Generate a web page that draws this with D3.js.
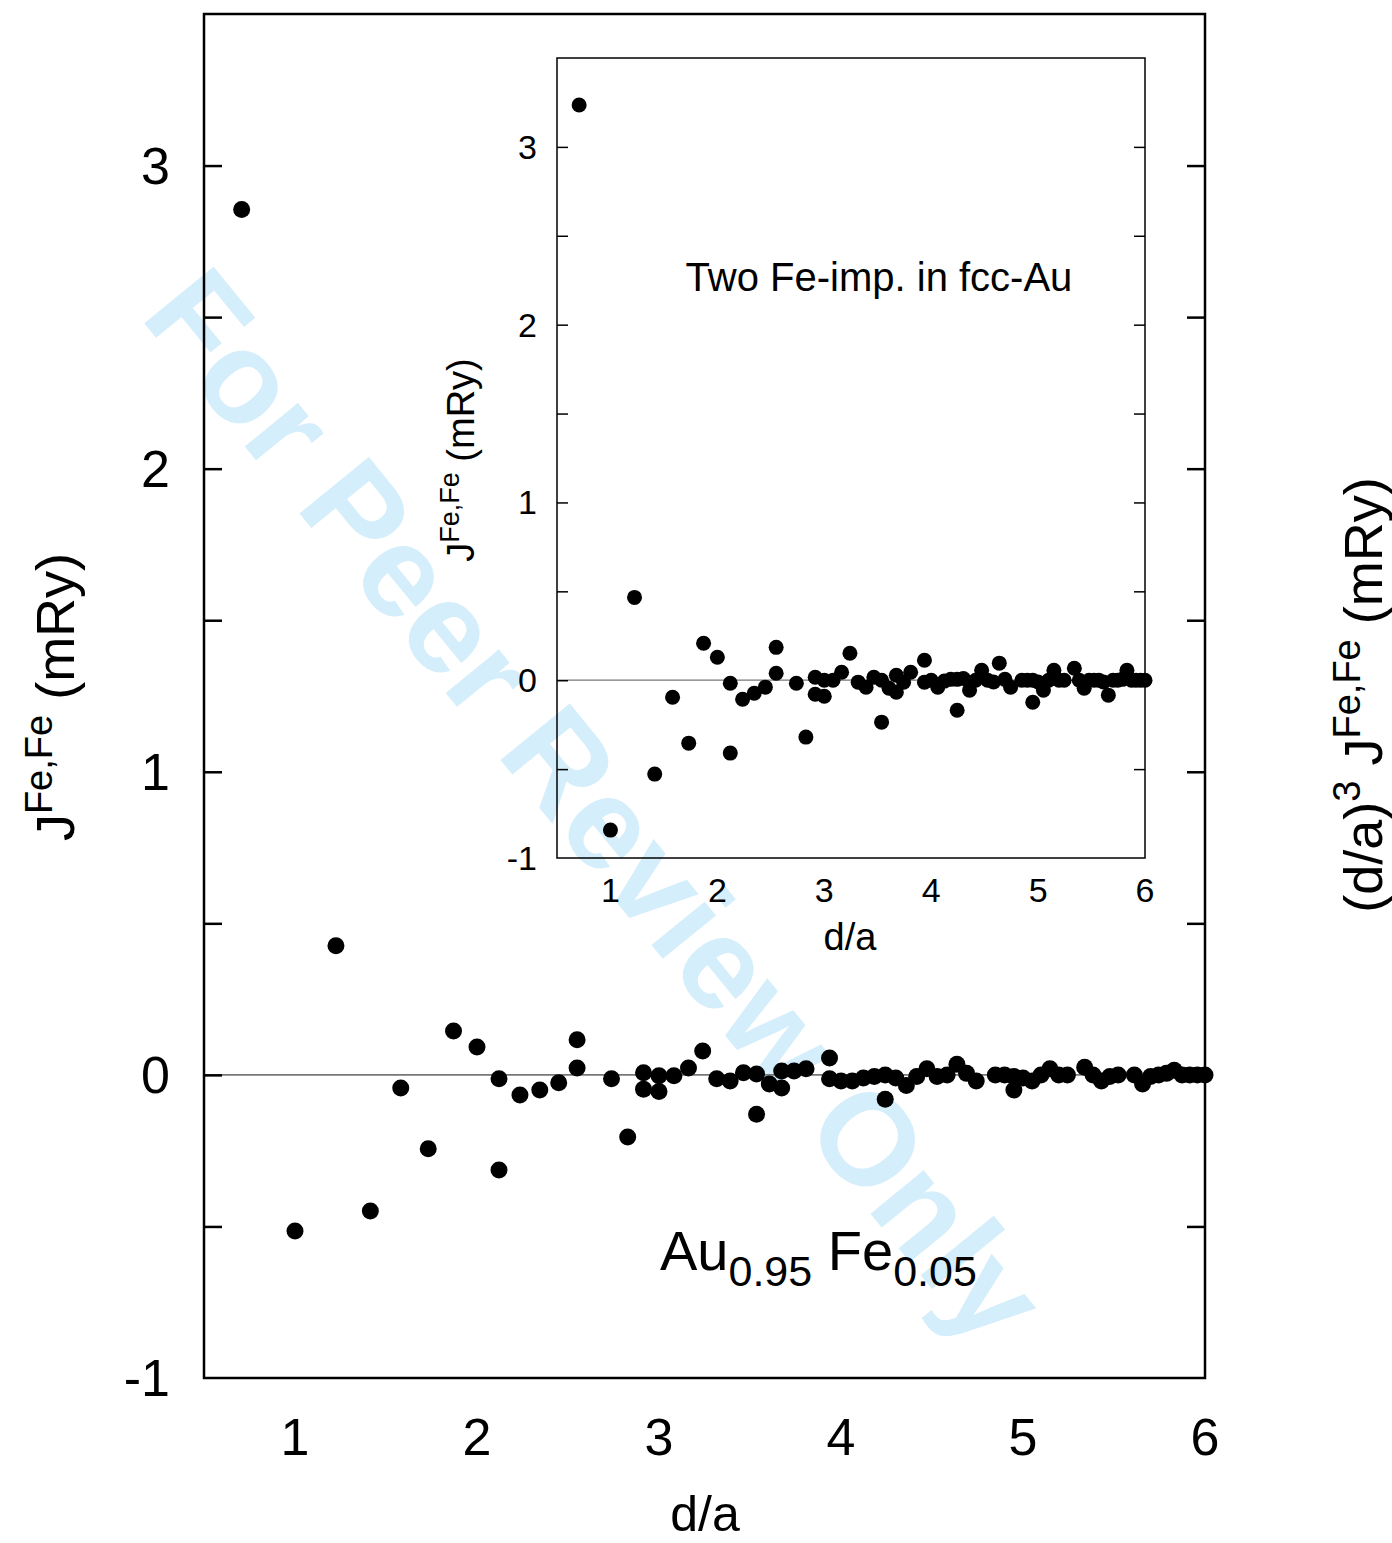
<!DOCTYPE html>
<html><head><meta charset="utf-8">
<script src="https://cdn.jsdelivr.net/npm/d3@7"></script>
<style>body{margin:0;background:#fff}svg{display:block;font-family:"Liberation Sans",Arial,sans-serif}</style>
</head><body>
<script>
// Main plot: Au0.95 Fe0.05
const mainD = [0.707,1.0,1.225,1.414,1.581,1.732,1.871,2.0,2.121,2.121,2.236,2.345,2.449,2.550,2.550,2.739,2.828,2.915,2.915,3.0,3.0,3.082,3.162,3.240,3.317,3.391,3.464,3.536,3.536,3.606,3.674,3.674,3.742,3.808,3.937,3.937,4.0,4.062,4.123,4.183,4.243,4.243,4.301,4.359,4.416,4.472,4.528,4.583,4.637,4.690,4.743,4.848,4.899,4.950,4.950,5.0,5.050,5.099,5.148,5.196,5.244,5.339,5.385,5.431,5.477,5.523,5.612,5.657,5.701,5.745,5.788,5.831,5.874,5.916,5.958,6.0];
const mainJ = [2.855,-0.515,0.426,-0.449,-0.043,-0.244,0.145,0.092,-0.013,-0.314,-0.066,-0.05,-0.026,0.023,0.116,-0.013,-0.205,0.007,-0.047,-0.003,-0.055,-0.003,0.023,0.079,-0.013,-0.02,0.007,0.003,-0.13,-0.03,0.013,-0.043,0.013,0.02,0.056,-0.013,-0.02,-0.02,-0.01,-0.005,0.0,-0.08,-0.01,-0.035,-0.005,0.02,-0.005,0.0,0.035,0.005,-0.02,0.0,0.0,-0.005,-0.05,-0.01,-0.02,0.0,0.02,0.0,0.0,0.025,0.0,-0.02,-0.005,0.0,0.0,-0.03,-0.005,0.0,0.005,0.015,0.0,0.0,0.0,0.0];
// Inset: two Fe impurities in fcc-Au
const insetD = [0.707,1.0,1.225,1.414,1.581,1.732,1.871,2.0,2.121,2.121,2.236,2.345,2.449,2.550,2.550,2.739,2.828,2.915,2.915,3.0,3.0,3.082,3.162,3.240,3.317,3.391,3.464,3.536,3.536,3.606,3.674,3.674,3.742,3.808,3.937,3.937,4.0,4.062,4.123,4.183,4.243,4.243,4.301,4.359,4.416,4.472,4.528,4.583,4.637,4.690,4.743,4.848,4.899,4.950,4.950,5.0,5.050,5.099,5.148,5.196,5.244,5.339,5.385,5.431,5.477,5.523,5.568,5.612,5.657,5.701,5.745,5.788,5.831,5.874,5.916,5.958,6.0];
const insetJ = [3.236,-0.843,0.466,-0.528,-0.096,-0.354,0.208,0.129,-0.017,-0.41,-0.107,-0.073,-0.039,0.039,0.185,-0.017,-0.32,0.017,-0.079,0.0,-0.09,0.0,0.045,0.152,-0.011,-0.039,0.017,0.0,-0.236,-0.045,0.028,-0.067,-0.011,0.045,0.112,-0.011,0.0,-0.039,-0.005,0.005,0.005,-0.169,0.01,-0.056,0.0,0.056,0.0,-0.01,0.096,0.005,-0.039,0.0,0.0,0.0,-0.124,-0.01,-0.056,0.0,0.056,0.0,0.0,0.067,0.0,-0.045,0.0,0.0,0.0,-0.01,-0.084,0.0,0.0,0.005,0.056,0.0,0.0,0.0,0.0];
const xTicks = [1,2,3,4,5,6];
const yTicks = [-1,0,1,2,3];
const yMinor = [-0.5,0.5,1.5,2.5];

const W=1392,H=1543;
const svg=d3.select("body").append("svg").attr("width",W).attr("height",H);

// watermark
svg.append("text").attr("transform","translate(596,806) rotate(50.8)")
  .attr("text-anchor","middle").attr("dominant-baseline","central")
  .attr("font-size",130).attr("font-weight","bold").attr("fill","#d4eefb").text("For Peer Review Only");

function panel(o){
  const x=d3.scaleLinear().domain([0.5,6]).range([o.x0,o.x1]);
  const y=d3.scaleLinear().domain([-1,3.5]).range([o.y1,o.y0]);
  const g=svg.append("g");
  g.append("line").attr("x1",x(0.5)).attr("x2",x(6)).attr("y1",y(0)).attr("y2",y(0))
    .attr("stroke","#777").attr("stroke-width",o.zw);
  const all=yTicks.concat(yMinor).filter(v=>v>-1&&v<3.5);
  const ax=d3.axisLeft(y).tickValues(all).tickSize(-o.tl).tickFormat("");
  const ar=d3.axisRight(y).tickValues(all).tickSize(-o.tl).tickFormat("");
  g.append("g").attr("transform",`translate(${o.x0},0)`).call(ax).call(s=>{s.select(".domain").remove();s.selectAll("line").attr("stroke","#000").attr("stroke-width",o.tw);});
  g.append("g").attr("transform",`translate(${o.x1},0)`).call(ar).call(s=>{s.select(".domain").remove();s.selectAll("line").attr("stroke","#000").attr("stroke-width",o.tw);});
  g.append("rect").attr("x",o.x0).attr("y",o.y0).attr("width",o.x1-o.x0).attr("height",o.y1-o.y0)
    .attr("fill","none").attr("stroke","#000").attr("stroke-width",o.fw);
  g.selectAll(".yl").data(yTicks).join("text").attr("x",o.x0-o.ylOff).attr("y",d=>y(d))
    .attr("text-anchor","end").attr("dominant-baseline","central").attr("font-size",o.fs).text(d=>d);
  g.selectAll(".xl").data(xTicks).join("text").attr("x",d=>x(d)).attr("y",o.y1+o.xlOff)
    .attr("text-anchor","middle").attr("dominant-baseline","central").attr("font-size",o.fs).text(d=>d);
  g.selectAll("circle").data(o.d.map((d,i)=>[d,o.j[i]])).join("circle")
    .attr("cx",d=>x(d[0])).attr("cy",d=>y(d[1])).attr("r",o.r).attr("fill","#000");
  return {x,y};
}

panel({x0:204,x1:1205,y0:14,y1:1378,d:mainD,j:mainJ,r:8.5,fs:52,ylOff:34,xlOff:59,tl:18,tw:2.5,fw:2.5,zw:1.8});
panel({x0:557,x1:1145,y0:58,y1:858,d:insetD,j:insetJ,r:7.5,fs:34,ylOff:20,xlOff:32,tl:11,tw:1.5,fw:1.5,zw:1.3});

// main axis titles
svg.append("text").attr("x",705).attr("y",1514).attr("text-anchor","middle").attr("dominant-baseline","central").attr("font-size",50).text("d/a");
const yl=svg.append("text").attr("transform","translate(74,697) rotate(-90)").attr("text-anchor","middle").attr("font-size",54);
yl.append("tspan").text("J");
yl.append("tspan").attr("dy",-22).attr("font-size",38).text("Fe,Fe");
yl.append("tspan").attr("dy",22).text(" (mRy)");
const yr=svg.append("text").attr("transform","translate(1382,695) rotate(-90)").attr("text-anchor","middle").attr("font-size",54);
yr.append("tspan").text("(d/a)");
yr.append("tspan").attr("dy",-22).attr("font-size",38).text("3");
yr.append("tspan").attr("dy",22).text(" J");
yr.append("tspan").attr("dy",-22).attr("font-size",38).text("Fe,Fe");
yr.append("tspan").attr("dy",22).text(" (mRy)");

// inset titles
svg.append("text").attr("x",850).attr("y",937).attr("text-anchor","middle").attr("dominant-baseline","central").attr("font-size",38).text("d/a");
const iy=svg.append("text").attr("transform","translate(474,460) rotate(-90)").attr("text-anchor","middle").attr("font-size",38);
iy.append("tspan").text("J");
iy.append("tspan").attr("dy",-15).attr("font-size",27).text("Fe,Fe");
iy.append("tspan").attr("dy",15).text(" (mRy)");
svg.append("text").attr("x",879).attr("y",277).attr("text-anchor","middle").attr("dominant-baseline","central").attr("font-size",40).text("Two Fe-imp. in fcc-Au");

// composition label
const cl=svg.append("text").attr("x",660).attr("y",1270).attr("font-size",56);
cl.append("tspan").text("Au");
cl.append("tspan").attr("dy",16).attr("font-size",43).text("0.95");
cl.append("tspan").attr("dy",-16).text(" Fe");
cl.append("tspan").attr("dy",16).attr("font-size",43).text("0.05");
</script>
</body></html>
